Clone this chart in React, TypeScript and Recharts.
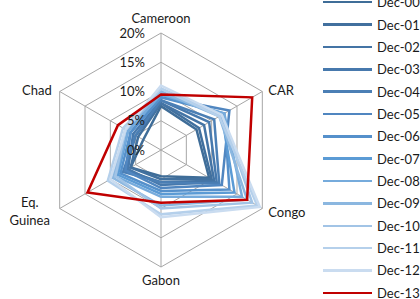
import { RadarChart, Radar, PolarGrid, PolarAngleAxis, PolarRadiusAxis, Legend } from "recharts"

const categories = ["Cameroon", "CAR", "Congo", "Gabon", "Eq. Guinea", "Chad"]

const seriesNames = [
  "Dec-00", "Dec-01", "Dec-02", "Dec-03", "Dec-04", "Dec-05", "Dec-06",
  "Dec-07", "Dec-08", "Dec-09", "Dec-10", "Dec-11", "Dec-12", "Dec-13",
]

const seriesColors = [
  "#3f6d98", "#41709e", "#4474a5", "#4779ad", "#4b7fb5", "#5086c0", "#5590cb",
  "#5b9bd5", "#76abdc", "#8bb7e0", "#a2c4e6", "#b5d0eb", "#cadcf0", "#c00000",
]

// values in %, order follows categories
const dec00 = [7.5, 7, 9.5, 4.5, 6, 3.5]
const dec01 = [8, 7.5, 10, 5, 6, 4.5]
const dec02 = [8, 8.5, 10.5, 5.5, 7, 5]
const dec03 = [8.5, 9.5, 11, 6, 6.5, 5.5]
const dec04 = [8.5, 10.5, 11.5, 5.5, 7.5, 5]
const dec05 = [9, 13.5, 12, 6.5, 7, 6]
const dec06 = [9, 12.5, 13.5, 7, 8, 6]
const dec07 = [9.5, 12, 14.5, 7.5, 8.5, 6.5]
const dec08 = [9.5, 12.5, 16, 8, 9, 6.5]
const dec09 = [10, 11.5, 17, 9.5, 9.5, 7]
const dec10 = [10.5, 12, 18, 10, 9, 7]
const dec11 = [10.5, 11.5, 19, 11, 10.5, 7.5]
const dec12 = [11, 12, 19.5, 11.5, 10, 7]
const dec13 = [9.5, 18, 17, 9, 14.5, 8.5]

const seriesValues = [
  dec00, dec01, dec02, dec03, dec04, dec05, dec06,
  dec07, dec08, dec09, dec10, dec11, dec12, dec13,
]

const radiusTicks = [0, 5, 10, 15, 20]

const data = categories.map((c, i) => {
  const row: Record<string, string | number> = { country: c }
  seriesNames.forEach((n, j) => {
    row[n] = seriesValues[j][i]
  })
  return row
})

const FONT = "Lato, 'Open Sans', sans-serif"

function AngleTick(props: any) {
  const { x, y, payload, textAnchor } = props
  const label: string = payload.value
  const common = { fontFamily: FONT, fontSize: 13, fill: "#1a1a1a" }
  if (textAnchor === "middle") {
    const up = y < 150
    return (
      <text x={x} y={up ? y - 7 : y + 5} dy="0.35em" textAnchor="middle" {...common}>
        {label}
      </text>
    )
  }
  const words = label.split(" ")
  if (words.length > 1) {
    return (
      <text x={x - 23} y={y - 1} textAnchor="middle" {...common}>
        {words.map((w, i) => (
          <tspan key={i} x={x - 23} dy={i === 0 ? "-0.35em" : "1.35em"}>
            {w}
          </tspan>
        ))}
      </text>
    )
  }
  return (
    <text x={x - 1} y={y < 150 ? y + 2.5 : y} dy="0.35em" textAnchor={textAnchor} {...common}>
      {label}
    </text>
  )
}

function RadiusTick(props: any) {
  const { x, y, payload } = props
  return (
    <text x={x - 16} y={y} dy="0.35em" textAnchor="end" fontFamily={FONT} fontSize={13} fill="#1a1a1a">
      {payload.value}%
    </text>
  )
}

function LegendList() {
  return (
    <div style={{ position: "relative", width: 100 }}>
      {seriesNames.map((n, i) => (
        <div
          key={n}
          style={{
            position: "absolute",
            top: i * 22.36,
            left: 0,
            height: 22.36,
            display: "flex",
            alignItems: "center",
            whiteSpace: "nowrap",
          }}
        >
          <div style={{ width: 49, height: 2.5, background: seriesColors[i], marginRight: 5 }} />
          <span style={{ fontFamily: FONT, fontSize: 13, color: "#1a1a1a" }}>{n}</span>
        </div>
      ))}
    </div>
  )
}

export default function App() {
  return (
    <div style={{ position: "absolute", left: 0, top: 0, width: 420, height: 299, overflow: "hidden", background: "#fff" }}>
      <RadarChart width={420} height={299} data={data} cx={161} cy={150} outerRadius={117}>
        <PolarGrid gridType="polygon" stroke="#a6a6a6" strokeWidth={1} />
        <PolarAngleAxis dataKey="country" tick={<AngleTick />} tickLine={false} axisLine={false} />
        <PolarRadiusAxis
          angle={90}
          domain={[0, 20]}
          ticks={radiusTicks as any}
          tickCount={5}
          axisLine={false}
          tickLine={false}
          tick={<RadiusTick />}
        />
        {seriesNames.map((n, i) => (
          <Radar
            key={n}
            name={n}
            dataKey={n}
            stroke={seriesColors[i]}
            strokeWidth={2.5}
            fill="none"
            fillOpacity={0}
            dot={false}
            isAnimationActive={false}
          />
        ))}
        <Legend
          layout="vertical"
          content={<LegendList />}
          wrapperStyle={{ position: "absolute", left: 323, top: -9, width: 100 }}
        />
      </RadarChart>
    </div>
  )
}
